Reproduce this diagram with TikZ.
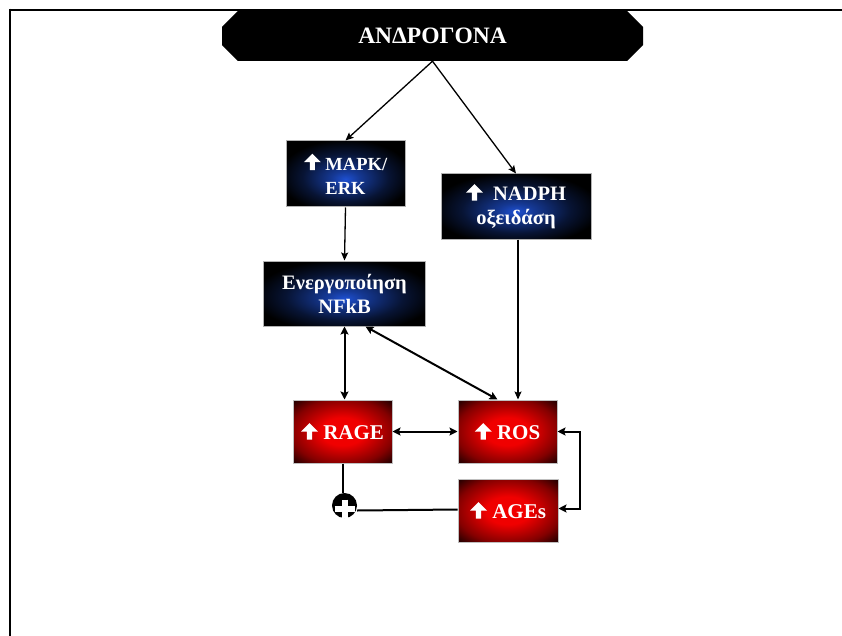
\documentclass[tikz,border=0pt]{standalone}
\usepackage{fontspec}
\setmainfont{Liberation Serif}
\usetikzlibrary{shapes.misc,arrows.meta}
\definecolor{bluec}{RGB}{30,80,210}
\definecolor{redc}{RGB}{240,0,0}
\pgfdeclareradialshading{blueglow}{\pgfpoint{0bp}{-4bp}}{color(0bp)=(bluec); color(6bp)=(bluec!70!black); color(18bp)=(bluec!25!black); color(28bp)=(black); color(50bp)=(black)}
\pgfdeclareradialshading{redglow}{\pgfpoint{0bp}{0bp}}{color(0bp)=(redc); color(11bp)=(redc); color(26bp)=(redc!55!black); color(38bp)=(black); color(50bp)=(black)}
\newcommand{\upar}{\tikz[x=1pt,y=1pt,baseline=0pt]{\fill[white] (-2.6,0) rectangle (2.6,9) (-8.5,8) -- (0,16.5) -- (8.5,8) -- cycle;}}
\tikzset{
  frameline/.style={line width=2.5pt},
  bluebox/.style={shading=blueglow, draw=gray!60, line width=1pt, text=white,
    font=\bfseries\fontsize{20.5}{24}\selectfont, align=center, inner sep=0pt},
  redbox/.style={shading=redglow, draw=gray!50, line width=1pt, text=white,
    font=\bfseries\fontsize{21}{24}\selectfont, align=center, inner sep=0pt,
    minimum width=99pt, minimum height=63pt},
  titlebox/.style={chamfered rectangle, chamfered rectangle xsep=8pt, chamfered rectangle ysep=8pt,
    fill=black, text=white, font=\bfseries\fontsize{23.5}{24}\selectfont, inner sep=0pt,
    minimum width=421pt, minimum height=50pt},
  thin/.style={line width=1.3pt, -{Stealth[length=8pt,width=7pt,inset=1.5pt]}},
  thick2/.style={line width=2pt, {Stealth[length=8pt,width=8pt,inset=1.5pt]}-{Stealth[length=8pt,width=8pt,inset=1.5pt]}},
  plain/.style={line width=2pt},
}
\begin{document}
\begin{tikzpicture}[x=1pt,y=-1pt]
\useasboundingbox (0,0) rectangle (842,636);
% frame
\coordinate (f1) at (8.75,10);
\coordinate (f2) at (842,10);
\coordinate (f3) at (10,636);
\draw[frameline] (f2) -- (f1);
\draw[frameline] (10,8.75) -- (f3);

\node[titlebox] (title) at (432.5,36) {ΑΝΔΡΟΓΟΝΑ};

\node[bluebox, minimum width=119pt, minimum height=66pt, font=\bfseries\fontsize{18.5}{24}\selectfont] (mapk) at (345.5,174) {\upar\ MAPK/\\ERK};
\node[bluebox, minimum width=150pt, minimum height=65pt] (nadph) at (516,206.5) {\upar\ \ NADPH\\οξειδάση};
\node[bluebox, minimum width=162pt, minimum height=65pt] (nfkb) at (344.5,293.5) {Ενεργοποίηση\\NFkB};

\node[redbox] (rage) at (342.5,431.5) {\upar\ RAGE};
\node[redbox] (ros) at (507.5,431.5) {\upar\ ROS};
\node[redbox, minimum width=100pt] (ages) at (508,510.5) {\upar\ AGEs};

% plus circle
\node[circle, fill=black, minimum size=25pt, inner sep=0pt] (plus) at (344.5,505.5) {};
\draw[white, line width=6pt] ([yshift=-3pt]plus.center) ++(-10,0) -- ++(20,0);
\draw[white, line width=6pt] ([yshift=-3pt]plus.center) ++(0,-9) -- ++(0,18);

% connectors
\draw[thin] (title.south) -- (mapk.north);
\draw[thin] (title.south) -- (nadph.north);
\draw[thin] (mapk.south) -- (nfkb.north);
\draw[thin] ([xshift=2pt]nadph.south) -- ([xshift=2pt]nadph.south |- ros.north);
\draw[thick2] (nfkb.south) -- (nfkb.south |- rage.north);
\draw[thick2] ([xshift=21pt]nfkb.south) -- ([xshift=-10pt]ros.north);
\draw[thick2] (rage.east) -- (ros.east -| ros.west);
\draw[thick2] (ros.east) -- ++(22,0) |- ([yshift=2pt]ages.east);
\draw[plain] (rage.south) -- (plus.north -| rage.south);
\draw[plain] ([yshift=1pt]ages.west) -- (plus.east |- ages.west);
\end{tikzpicture}
\end{document}
